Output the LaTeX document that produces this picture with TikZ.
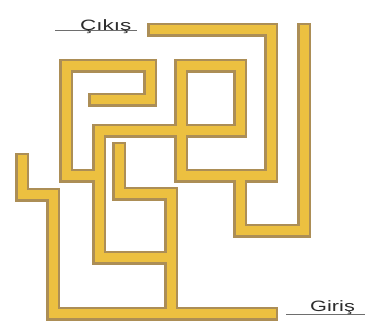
\documentclass[tikz,border=0pt]{standalone}
\usepackage{fontspec}
\setmainfont{Liberation Sans}
\usepackage{graphicx}
\usepackage{tikz}
\definecolor{hatsari}{RGB}{236,192,64}
\definecolor{hatkahve}{RGB}{172,142,86}
\definecolor{kilavuzgri}{RGB}{110,110,110}
\definecolor{yazigri}{RGB}{45,45,45}
\tikzset{
  hatkenar/.style={draw=hatkahve, line width=13.5pt, line cap=rect, line join=miter},
  hatdolgu/.style={draw=hatsari, line width=9pt, line cap=rect, line join=miter},
  etiket/.style={anchor=base west, inner sep=0pt, text=yazigri, font=\fontsize{15}{18}\selectfont},
  kilavuz/.style={draw=kilavuzgri, line width=0.8pt}
}
% butun iletken hatlar (bir kez kenar, bir kez dolgu)
\newcommand{\hatlar}[1]{%
  % Cikis hatti ve kare
  \draw[#1] (154,30) -- (271,30) -- (271,176) -- (181,176) -- (181,66) -- (240,66) -- (240,131) -- (99,131) -- (99,258) -- (171,258);
  % sag kivrim
  \draw[#1] (240,176) -- (240,231) -- (304,231) -- (304,30);
  % sol kanca
  \draw[#1] (95,100) -- (150,100) -- (150,66) -- (66,66) -- (66,176) -- (99,176);
  % Giris hatti
  \draw[#1] (22,160) -- (22,195) -- (53,195) -- (53,314) -- (271,314);
  % ic kol
  \draw[#1] (119,149) -- (119,194) -- (171,194) -- (171,314);
}
\begin{document}
\begin{tikzpicture}[x=1pt, y=-1pt]
  \useasboundingbox (0,0) rectangle (376,323);

  % hatlar
  \hatlar{hatkenar}
  \hatlar{hatdolgu}

  % Cikis etiketi
  \draw[kilavuz] (55,30) -- (137,30);
  \node[etiket] (cikis) at (80,31) {\scalebox{1.5}[1]{Çıkış}};

  % Giris etiketi
  \draw[kilavuz] (286,314) -- (365,314);
  \node[etiket] (giris) at (310,312) {\scalebox{1.45}[1]{Giriş}};
\end{tikzpicture}
\end{document}
